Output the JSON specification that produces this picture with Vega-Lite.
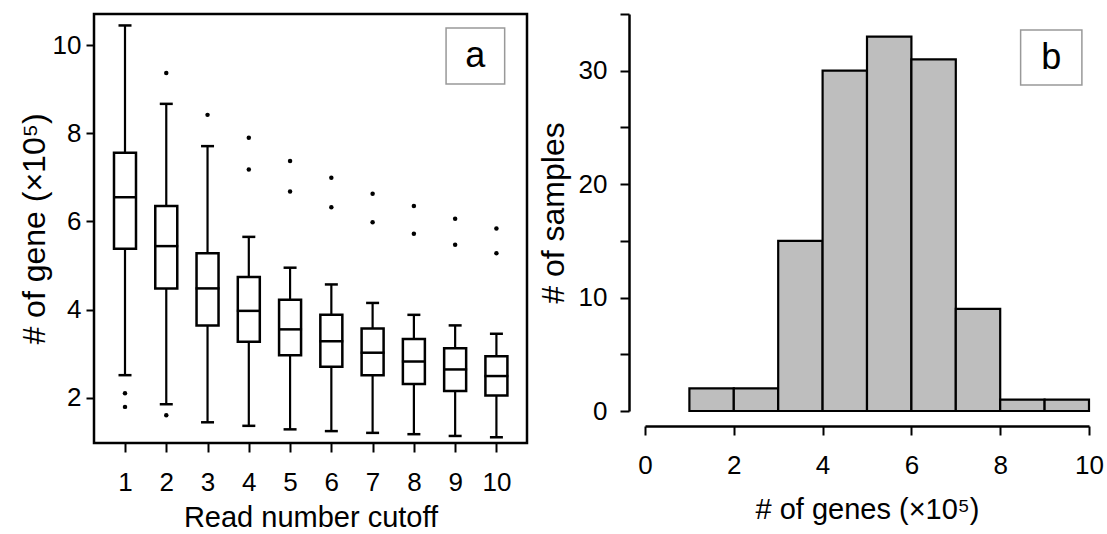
{
  "$schema": "https://vega.github.io/schema/vega-lite/v6.json",
  "background": "white",
  "padding": {"left": 16, "top": 12, "right": 5, "bottom": 2},
  "bounds": "flush",
  "spacing": 118,
  "config": {
    "font": "Liberation Sans",
    "axis": {
      "labelFont": "Liberation Sans",
      "titleFont": "Liberation Sans",
      "labelColor": "black",
      "titleColor": "black",
      "tickColor": "black",
      "domainColor": "black",
      "tickWidth": 2,
      "domainWidth": 2.5,
      "labelFontSize": 26,
      "titleFontSize": 29,
      "titleFontWeight": "normal",
      "grid": false,
      "labelFlush": false,
      "labelOverlap": false
    }
  },
  "datasets": {
    "boxes": [
      {"cutoff": 1, "lo": 2.51, "q1": 5.38, "med": 6.55, "q3": 7.56, "hi": 10.45},
      {"cutoff": 2, "lo": 1.85, "q1": 4.48, "med": 5.44, "q3": 6.35, "hi": 8.67},
      {"cutoff": 3, "lo": 1.44, "q1": 3.64, "med": 4.48, "q3": 5.28, "hi": 7.71},
      {"cutoff": 4, "lo": 1.36, "q1": 3.27, "med": 3.97, "q3": 4.74, "hi": 5.65},
      {"cutoff": 5, "lo": 1.28, "q1": 2.96, "med": 3.55, "q3": 4.22, "hi": 4.95},
      {"cutoff": 6, "lo": 1.24, "q1": 2.70, "med": 3.28, "q3": 3.88, "hi": 4.57},
      {"cutoff": 7, "lo": 1.20, "q1": 2.51, "med": 3.02, "q3": 3.57, "hi": 4.15},
      {"cutoff": 8, "lo": 1.17, "q1": 2.31, "med": 2.82, "q3": 3.33, "hi": 3.88},
      {"cutoff": 9, "lo": 1.13, "q1": 2.15, "med": 2.64, "q3": 3.12, "hi": 3.64},
      {"cutoff": 10, "lo": 1.10, "q1": 2.05, "med": 2.49, "q3": 2.94, "hi": 3.45}
    ],
    "outliers": [
      {"cutoff": 1, "genes": 2.10}, {"cutoff": 1, "genes": 1.79},
      {"cutoff": 2, "genes": 9.37}, {"cutoff": 2, "genes": 1.60},
      {"cutoff": 3, "genes": 8.42},
      {"cutoff": 4, "genes": 7.90}, {"cutoff": 4, "genes": 7.18},
      {"cutoff": 5, "genes": 7.37}, {"cutoff": 5, "genes": 6.68},
      {"cutoff": 6, "genes": 6.99}, {"cutoff": 6, "genes": 6.32},
      {"cutoff": 7, "genes": 6.63}, {"cutoff": 7, "genes": 5.98},
      {"cutoff": 8, "genes": 6.35}, {"cutoff": 8, "genes": 5.72},
      {"cutoff": 9, "genes": 6.06}, {"cutoff": 9, "genes": 5.47},
      {"cutoff": 10, "genes": 5.84}, {"cutoff": 10, "genes": 5.28}
    ],
    "hist": [
      {"bin_start": 1, "bin_end": 2, "count": 2},
      {"bin_start": 2, "bin_end": 3, "count": 2},
      {"bin_start": 3, "bin_end": 4, "count": 15},
      {"bin_start": 4, "bin_end": 5, "count": 30},
      {"bin_start": 5, "bin_end": 6, "count": 33},
      {"bin_start": 6, "bin_end": 7, "count": 31},
      {"bin_start": 7, "bin_end": 8, "count": 9},
      {"bin_start": 8, "bin_end": 9, "count": 1},
      {"bin_start": 9, "bin_end": 10, "count": 1}
    ],
    "tag_a": [{"tag": "a", "x1": 8.78, "x2": 10.2, "y1": 9.12, "y2": 10.39, "xc": 9.49, "yc": 9.755}],
    "tag_b": [{"tag": "b", "x1": 8.46, "x2": 9.84, "y1": 28.74, "y2": 33.59, "xc": 9.15, "yc": 31.16}]
  },
  "hconcat": [
    {
      "width": 433,
      "height": 429,
      "view": {"stroke": "black", "strokeWidth": 2.5},
      "layer": [
        {
          "data": {"name": "boxes"},
          "mark": {"type": "rule", "color": "black", "strokeWidth": 2.2},
          "encoding": {
            "x": {
              "field": "cutoff", "type": "quantitative",
              "scale": {"domain": [0.37, 10.62], "nice": false, "zero": false},
              "axis": {"values": [1, 2, 3, 4, 5, 6, 7, 8, 9, 10], "format": "d", "domain": false, "tickSize": 9, "labelPadding": 17, "title": "Read number cutoff", "titlePadding": 8}
            },
            "y": {
              "field": "lo", "type": "quantitative",
              "scale": {"domain": [0.97, 10.71], "nice": false, "zero": false},
              "axis": {"values": [2, 4, 6, 8, 10], "format": "d", "domain": false, "tickSize": 8, "labelPadding": 5, "title": "# of gene (×10⁵)", "titleFontSize": 32, "titlePadding": 1}
            },
            "y2": {"field": "hi"}
          }
        },
        {
          "data": {"name": "boxes"},
          "mark": {"type": "tick", "orient": "horizontal", "color": "black", "opacity": 1, "size": 13, "thickness": 2.5},
          "encoding": {
            "x": {"field": "cutoff", "type": "quantitative", "title": "Read number cutoff"},
            "y": {"field": "lo", "type": "quantitative", "title": "# of gene (×10⁵)"}
          }
        },
        {
          "data": {"name": "boxes"},
          "mark": {"type": "tick", "orient": "horizontal", "color": "black", "opacity": 1, "size": 13, "thickness": 2.5},
          "encoding": {
            "x": {"field": "cutoff", "type": "quantitative", "title": "Read number cutoff"},
            "y": {"field": "hi", "type": "quantitative", "title": "# of gene (×10⁵)"}
          }
        },
        {
          "data": {"name": "boxes"},
          "mark": {"type": "bar", "width": 22, "fill": "white", "stroke": "black", "strokeWidth": 2.5, "opacity": 1},
          "encoding": {
            "x": {"field": "cutoff", "type": "quantitative", "title": "Read number cutoff"},
            "y": {"field": "q1", "type": "quantitative", "title": "# of gene (×10⁵)"},
            "y2": {"field": "q3"}
          }
        },
        {
          "data": {"name": "boxes"},
          "mark": {"type": "tick", "orient": "horizontal", "color": "black", "opacity": 1, "size": 24, "thickness": 2.5},
          "encoding": {
            "x": {"field": "cutoff", "type": "quantitative", "title": "Read number cutoff"},
            "y": {"field": "med", "type": "quantitative", "title": "# of gene (×10⁵)"}
          }
        },
        {
          "data": {"name": "outliers"},
          "mark": {"type": "point", "filled": true, "color": "black", "opacity": 1, "size": 20},
          "encoding": {
            "x": {"field": "cutoff", "type": "quantitative", "title": "Read number cutoff"},
            "y": {"field": "genes", "type": "quantitative", "title": "# of gene (×10⁵)"}
          }
        },
        {
          "data": {"name": "tag_a"},
          "mark": {"type": "rect", "fill": "white", "stroke": "#999999", "strokeWidth": 1.5},
          "encoding": {
            "x": {"field": "x1", "type": "quantitative", "title": "Read number cutoff"},
            "x2": {"field": "x2"},
            "y": {"field": "y1", "type": "quantitative", "title": "# of gene (×10⁵)"},
            "y2": {"field": "y2"}
          }
        },
        {
          "data": {"name": "tag_a"},
          "mark": {"type": "text", "font": "Liberation Sans", "fontSize": 36, "color": "black", "baseline": "middle", "align": "center"},
          "encoding": {
            "x": {"field": "xc", "type": "quantitative", "title": "Read number cutoff"},
            "y": {"field": "yc", "type": "quantitative", "title": "# of gene (×10⁵)"},
            "text": {"field": "tag"}
          }
        }
      ]
    },
    {
      "width": 444,
      "height": 397,
      "view": {"stroke": null},
      "layer": [
        {
          "data": {"name": "hist"},
          "mark": {"type": "bar", "fill": "#bebebe", "stroke": "black", "strokeWidth": 2.2, "opacity": 1},
          "encoding": {
            "x": {
              "field": "bin_start", "type": "quantitative",
              "scale": {"domain": [0, 10], "nice": false, "zero": false},
              "axis": {"values": [0, 2, 4, 6, 8, 10], "format": "d", "offset": 15, "tickSize": 9, "labelPadding": 17, "title": "# of genes (×10⁵)", "titlePadding": 17}
            },
            "x2": {"field": "bin_end"},
            "y": {
              "field": "count", "type": "quantitative",
              "scale": {"domain": [0, 35], "nice": false},
              "axis": {
                "values": [0, 5, 10, 15, 20, 25, 30, 35],
                "labelExpr": "datum.value % 10 === 0 ? datum.label : ''",
                "labelFontSize": {"condition": {"test": "datum.value % 10 !== 0", "value": 1}, "value": 26},
                "offset": 16, "tickSize": 9, "labelPadding": 13,
                "title": "# of samples", "titleFontSize": 32, "titlePadding": 8
              }
            },
            "y2": {"datum": 0}
          }
        },
        {
          "data": {"name": "tag_b"},
          "mark": {"type": "rect", "fill": "white", "stroke": "#999999", "strokeWidth": 1.5},
          "encoding": {
            "x": {"field": "x1", "type": "quantitative", "title": "# of genes (×10⁵)"},
            "x2": {"field": "x2"},
            "y": {"field": "y1", "type": "quantitative", "title": "# of samples"},
            "y2": {"field": "y2"}
          }
        },
        {
          "data": {"name": "tag_b"},
          "mark": {"type": "text", "font": "Liberation Sans", "fontSize": 36, "color": "black", "baseline": "middle", "align": "center"},
          "encoding": {
            "x": {"field": "xc", "type": "quantitative", "title": "# of genes (×10⁵)"},
            "y": {"field": "yc", "type": "quantitative", "title": "# of samples"},
            "text": {"field": "tag"}
          }
        }
      ]
    }
  ]
}
